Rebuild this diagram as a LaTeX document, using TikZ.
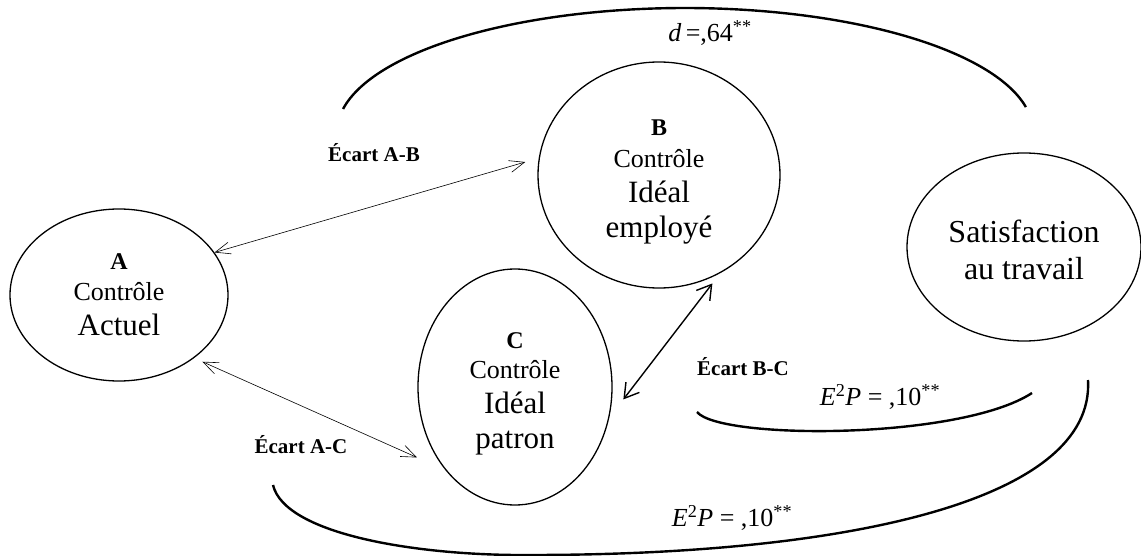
\documentclass[tikz,border=0pt]{standalone}
\usepackage{fontspec}
\setmainfont{Liberation Serif}
\usetikzlibrary{shapes.geometric,arrows.meta}
\begin{document}
\begin{tikzpicture}[x=1pt,y=-1pt,
  oval/.style={draw, ellipse, line width=1.3pt, inner sep=0pt, align=center},
  lbl/.style={font=\fontsize{21}{25}\selectfont\bfseries, inner sep=0pt},
  stat/.style={font=\fontsize{26}{30}\selectfont, inner sep=0pt},
  thinarrow/.style={line width=0.6pt, {Straight Barb[length=15pt,width=12pt]}-{Straight Barb[length=15pt,width=12pt]}},
  thickarrow/.style={line width=1.4pt, {Straight Barb[length=14pt,width=17pt]}-{Straight Barb[length=14pt,width=17pt]}},
  arcline/.style={line width=2.4pt}]
\useasboundingbox (0,0) rectangle (1141,556);

% ellipses
\node[oval, minimum width=218pt, minimum height=172pt, font=\fontsize{26}{35}\selectfont] (A) at (119,295)
  {{\fontsize{24}{28}\selectfont\bfseries A}\\[-4pt]Contrôle\\{\fontsize{31}{35}\selectfont Actuel}};
\node[oval, minimum width=242pt, minimum height=226pt, font=\fontsize{26}{35}\selectfont] (B) at (659,175)
  {\raisebox{0pt}[29pt][0pt]{\fontsize{24}{28}\selectfont\bfseries B}\\[-3pt]Contrôle\\{\fontsize{31}{35}\selectfont Idéal}\\{\fontsize{31}{35}\selectfont employé}};
\node[oval, minimum width=194pt, minimum height=236pt, font=\fontsize{26}{35}\selectfont] (C) at (515,387)
  {\raisebox{0pt}[29pt][0pt]{\fontsize{24}{28}\selectfont\bfseries C}\\[-5pt]Contrôle\\{\fontsize{31}{35}\selectfont Idéal}\\{\fontsize{31}{35}\selectfont patron}};
\node[oval, minimum width=234pt, minimum height=188pt, font=\fontsize{32}{37}\selectfont] (S) at (1024,247)
  {\raisebox{0pt}[29pt][0pt]{Satisfaction}\\au travail};

% connectors
\draw[thinarrow, shorten >=14pt] (A.24.6) -- (B.172.4);
\draw[thinarrow, shorten <=9pt, shorten >=31pt] (A.-40) -- (C.230.7);
\draw[thickarrow, shorten <=23pt, shorten >=13pt] (C.-18.7) -- (B.-58);

% labels
\node[lbl] (ab) at (374,153) {Écart A-B};
\node[lbl] (ac) at (301,445) {Écart A-C};
\node[lbl] (bc) at (743,367) {Écart B-C};

% statistics
\node[stat] (d) at (710,33) {\textit{d}\,=,64\textsuperscript{**}};
\node[stat] (e1) at (880,397) {\textit{E}\textsuperscript{2}\textit{P} = ,10\textsuperscript{**}};
\node[stat] (e2) at (732,518) {\textit{E}\textsuperscript{2}\textit{P} = ,10\textsuperscript{**}};

% arcs
\draw[arcline] plot[domain=190.7:348.4, samples=120, smooth] ({685+348*cos(\x)},{132+124*sin(\x)});
\draw[arcline] (697,412) .. controls (720,440) and (960,440) .. (1032,393);
\draw[arcline] (273,485) .. controls (285,535) and (420,556) .. (530,555) .. controls (850,555) and (1095,500) .. (1088,380);
\end{tikzpicture}
\end{document}
